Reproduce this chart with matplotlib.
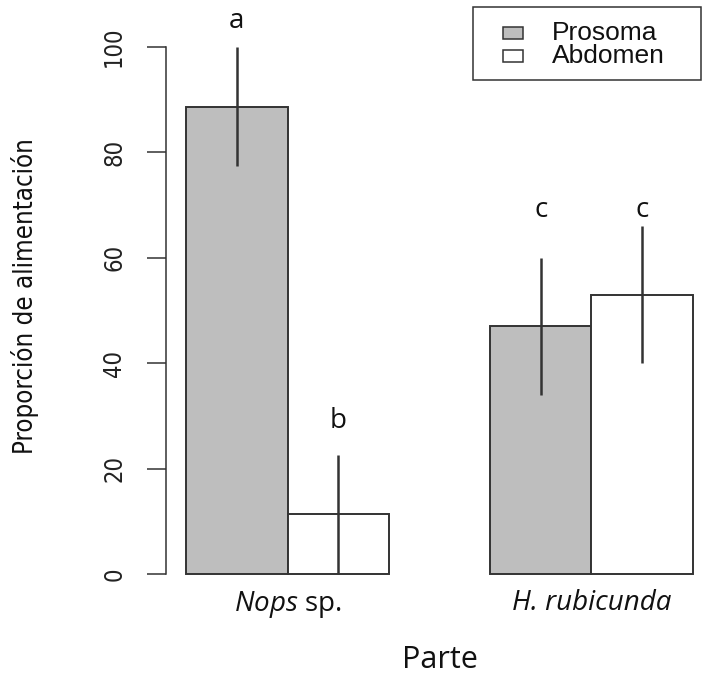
import matplotlib
matplotlib.use("Agg")
import matplotlib.pyplot as plt
import numpy as np
from matplotlib.patches import Rectangle

# Feeding proportion by body part for each prey species
species = ["Nops sp.", "H. rubicunda"]
species_labels = [r"$\mathit{Nops}$ sp.", "H. rubicunda"]
parts = ["Prosoma", "Abdomen"]
prosoma = [88.7, 47.0]
abdomen = [11.3, 53.0]
prosoma_err = [11.3, 13.0]
abdomen_err = [11.3, 13.0]
letters = ["a", "b", "c", "c"]
letter_y = [105, 29, 69, 69]
yticks = [0, 20, 40, 60, 80, 100]
fills = ["#bebebe", "white"]

plt.rcParams["mathtext.fontset"] = "custom"
plt.rcParams["mathtext.it"] = "Open Sans:italic"
plt.rcParams["mathtext.rm"] = "Open Sans"

W, H = 708, 675
fig = plt.figure(figsize=(W / 100, H / 100), dpi=100)
ax = fig.add_axes([166 / W, 80 / H, 547 / W, 569 / H])

edge = "#333333"
narrow = dict(family="DejaVu Sans", fontstretch="condensed")

# barplot(beside=TRUE) layout: bar width 1, one bar of space between groups
n = len(species)
left_pro = np.arange(n) * 3 + 1
left_abd = left_pro + 1
x_pro = left_pro + 0.5
x_abd = left_abd + 0.5

ax.bar(x_pro, prosoma, width=1, color=fills[0], edgecolor=edge, linewidth=1.4)
ax.bar(x_abd, abdomen, width=1, color=fills[1], edgecolor=edge, linewidth=1.4)

ax.errorbar(x_pro, prosoma, yerr=prosoma_err, fmt="none", ecolor=edge,
            elinewidth=1.8, capsize=0)
ax.errorbar(x_abd, abdomen, yerr=abdomen_err, fmt="none", ecolor=edge,
            elinewidth=1.8, capsize=0)

# significance letters above each bar
letter_x = np.ravel(np.column_stack([x_pro, x_abd]))
for lx, ly, lt in zip(letter_x, letter_y, letters):
    ax.text(lx, ly, lt, ha="center", va="center", fontsize=20,
            family="Open Sans", color="#111111", clip_on=False)

ax.set_xlim(0.8, 6.2)
ax.set_ylim(-4, 104)

for s in ["top", "right", "bottom"]:
    ax.spines[s].set_visible(False)
ax.spines["left"].set_bounds(0, 100)
ax.spines["left"].set_color(edge)
ax.spines["left"].set_linewidth(1.1)

ax.set_yticks(yticks)
ax.set_yticklabels([str(t) for t in yticks], rotation=90, va="center",
                   fontsize=17, color="#222222", **narrow)
ax.tick_params(axis="y", length=13.7, width=1.1, color=edge, pad=15)

ax.set_xticks((left_pro + left_abd + 1) / 2)
ax.set_xticklabels(species_labels, fontsize=20, family="Open Sans", color="#111111")
ax.get_xticklabels()[1].set_fontstyle("italic")
ax.tick_params(axis="x", length=0, pad=-4)

ax.set_xlabel("Parte", fontsize=22, family="Open Sans", color="#111111", labelpad=18)

fig.text(25 / W, 1 - 296 / H, "Proporción de alimentación", rotation=90,
         ha="center", va="center", fontsize=18.5, color="#111111", **narrow)

# legend box in the top right corner
def fx(px):
    return px / W

def fy(py):
    return 1 - py / H

fig.patches.append(Rectangle((fx(473), fy(80)), fx(701) - fx(473), fy(7) - fy(80),
                             transform=fig.transFigure, facecolor="white",
                             edgecolor=edge, linewidth=1.1))
for i, (lab, fc) in enumerate(zip(parts, fills)):
    cy = 33 + i * 23
    fig.patches.append(Rectangle((fx(503), fy(cy + 6)), fx(523) - fx(503), fy(cy - 6) - fy(cy + 6),
                                 transform=fig.transFigure, facecolor=fc,
                                 edgecolor=edge, linewidth=1.1))
    fig.text(fx(552), fy(cy), lab, ha="left", va="center", fontsize=19,
             family="Liberation Sans", color="#111111")

fig.savefig("out.png", dpi=100, facecolor="white")
